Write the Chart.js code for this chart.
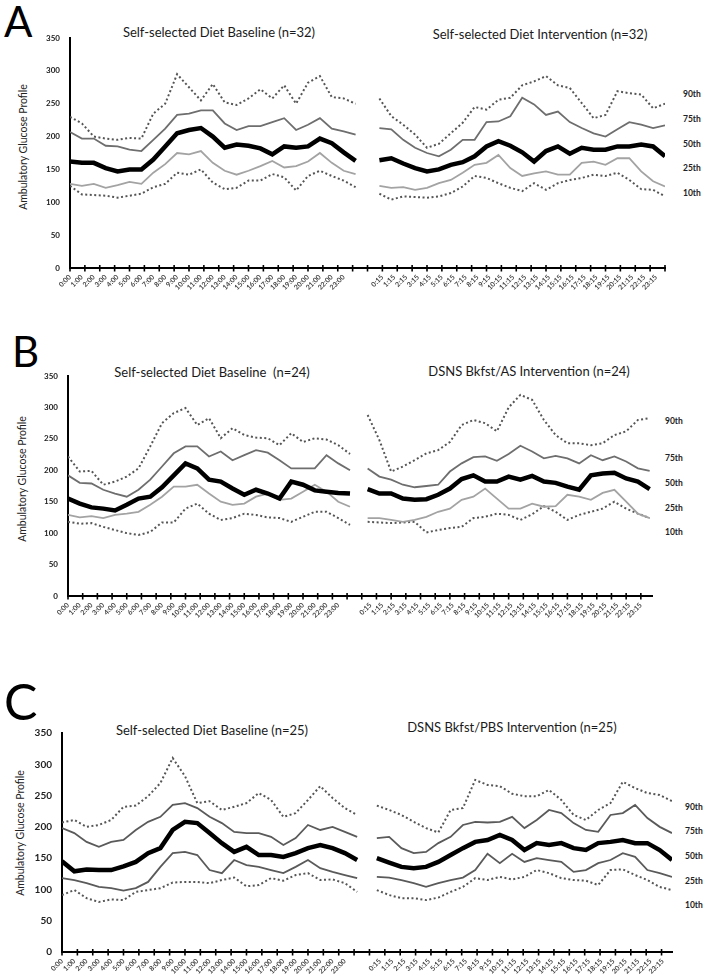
<!DOCTYPE html>
<html>
<head>
<meta charset="utf-8">
<script src="https://cdn.jsdelivr.net/npm/chart.js@4.4.1/dist/chart.umd.min.js"></script>
<style>
  body { margin: 0; width: 708px; height: 977px; position: relative; background: #fff; overflow: hidden;
         font-family: Lato, "Open Sans", sans-serif; }
  .panel { position: absolute; left: 0; width: 708px; }
  .lbl { position: absolute; white-space: nowrap; color: #1a1a1a; }
  .letter { font-size: 42px; line-height: 1; color: #000; }
  .ttl { font-size: 13px; transform: translate(-50%, -50%); color: #1a1a1a; }
  .pct { font-size: 8.5px; font-weight: bold; transform: translateY(-50%); color: #222; }
  .ytl { font-size: 10.5px; transform: translate(-50%, -50%) rotate(-90deg); color: #222; }
</style>
</head>
<body>

<div class="lbl letter" style="left:4px;top:0px">A</div>
<div class="lbl letter" style="left:12px;top:330px">B</div>
<div class="lbl letter" style="left:4px;top:676px;font-size:50px">C</div>

<div class="lbl ttl" style="left:219px;top:32px">Self-selected Diet Baseline (n=32)</div>
<div class="lbl ttl" style="left:540px;top:34px">Self-selected Diet Intervention (n=32)</div>
<div class="lbl ttl" style="left:212px;top:372px">Self-selected Diet Baseline&nbsp; (n=24)</div>
<div class="lbl ttl" style="left:529px;top:371px">DSNS Bkfst/AS Intervention (n=24)</div>
<div class="lbl ttl" style="left:212px;top:730px">Self-selected Diet Baseline (n=25)</div>
<div class="lbl ttl" style="left:512px;top:727px">DSNS Bkfst/PBS Intervention (n=25)</div>

<div class="lbl ytl" style="left:23px;top:147px">Ambulatory Glucose Profile</div>
<div class="lbl ytl" style="left:22px;top:479px">Ambulatory Glucose Profile</div>
<div class="lbl ytl" style="left:20px;top:833px">Ambulatory Glucose Profile</div>

<div id="pctA"></div><div id="pctB"></div><div id="pctC"></div>

<div class="panel" style="top:0px;height:300px"><canvas id="chartA"></canvas></div>
<div class="panel" style="top:330px;height:300px"><canvas id="chartB"></canvas></div>
<div class="panel" style="top:690px;height:287px"><canvas id="chartC"></canvas></div>

<script>
// percentile names, top to bottom
const percentiles = ['90th', '75th', '50th', '25th', '10th'];
const yTicks = [0, 50, 100, 150, 200, 250, 300, 350];
const baseTickLabels = ['0:00','1:00','2:00','3:00','4:00','5:00','6:00','7:00','8:00','9:00','10:00','11:00',
  '12:00','13:00','14:00','15:00','16:00','17:00','18:00','19:00','20:00','21:00','22:00','23:00'];
const intTickLabels = ['0:15','1:15','2:15','3:15','4:15','5:15','6:15','7:15','8:15','9:15','10:15','11:15',
  '12:15','13:15','14:15','15:15','16:15','17:15','18:15','19:15','20:15','21:15','22:15','23:15'];

// hourly readings, 0:00 .. 24:00 (mg/dL)
// A: self-selected diet baseline / intervention
const aBase90 = [230,220,200,197,195,198,197,235,250,295,275,255,280,252,248,258,272,258,278,250,282,292,260,258,250];
const aBase75 = [207,197,197,186,185,180,178,195,212,233,235,240,240,220,210,216,216,222,228,210,218,228,212,208,203];
const aBase50 = [162,160,160,152,147,150,150,165,185,205,210,213,200,183,188,186,182,173,185,183,185,197,190,176,163];
const aBase25 = [128,125,128,122,126,131,128,145,158,175,173,178,160,148,142,148,155,163,153,155,162,175,160,148,143];
const aBase10 = [125,112,111,110,107,110,113,123,128,145,142,150,130,120,122,133,133,143,138,118,140,148,140,133,123];
const aInt90 = [258,231,218,203,183,189,205,221,245,241,256,259,278,284,292,278,274,251,228,233,269,266,264,243,250];
const aInt75 = [213,211,195,183,175,170,180,195,195,222,223,231,259,249,233,238,222,213,205,200,211,222,218,213,217];
const aInt50 = [164,167,159,152,147,150,157,161,170,185,193,186,176,162,178,185,174,183,180,180,185,185,188,185,170];
const aInt25 = [125,122,123,119,122,129,134,145,157,160,172,152,140,144,147,142,142,160,162,157,167,167,147,132,124];
const aInt10 = [113,104,109,108,107,109,114,124,140,137,129,122,117,129,119,129,134,137,142,140,145,134,120,119,109];

// B: baseline / DSNS Bkfst AS intervention
const bBase90 = [222,198,199,177,182,190,203,238,275,291,299,272,283,251,267,256,252,251,240,259,245,251,249,240,226];
const bBase75 = [192,180,179,169,163,158,169,185,206,227,238,238,222,230,216,224,232,228,216,203,203,203,224,211,200];
const bBase50 = [155,147,141,139,136,145,155,158,173,192,211,203,185,182,171,161,169,163,155,182,177,168,166,164,163];
const bBase25 = [129,125,127,124,129,131,134,145,158,174,174,177,163,150,145,147,158,163,153,155,166,177,166,150,142];
const bBase10 = [118,115,116,110,105,100,97,102,117,117,139,147,131,121,124,131,129,125,124,118,126,134,134,124,113];
const bInt90 = [288,248,198,206,216,227,232,245,272,280,275,262,300,320,312,280,256,243,243,240,243,256,262,280,283];
const bInt75 = [203,190,185,177,173,175,177,198,211,221,222,215,226,239,230,219,223,219,211,224,216,222,214,203,199];
const bInt50 = [170,163,163,155,153,154,161,171,186,192,182,182,190,185,191,182,180,174,169,192,195,196,187,182,170];
const bInt25 = [124,124,121,118,121,126,134,139,153,158,171,155,139,139,147,142,143,161,158,153,164,169,150,131,124];
const bInt10 = [118,117,116,117,118,101,105,108,110,124,126,131,129,121,130,143,134,121,129,134,139,150,139,131,124];

// C: baseline / DSNS Bkfst PBS intervention
const cBase90 = [207,211,200,203,211,232,234,249,270,310,281,238,241,227,232,238,254,243,216,222,243,265,246,230,219];
const cBase75 = [198,190,176,168,176,179,195,208,216,235,238,230,216,206,192,190,190,184,171,182,203,195,200,192,184];
const cBase50 = [145,129,132,131,131,137,144,158,166,195,208,206,190,174,160,168,155,155,152,158,166,171,166,158,147];
const cBase25 = [118,115,110,104,102,98,102,112,136,158,160,155,131,126,147,139,136,131,126,136,147,134,128,123,118];
const cBase10 = [91,99,86,80,84,83,96,99,102,111,112,112,110,115,119,105,107,118,114,123,126,115,116,110,96];
const cInt90 = [234,227,219,208,198,191,227,230,275,267,265,253,249,249,259,243,219,211,227,238,272,262,254,251,241];
const cInt75 = [182,184,166,158,160,174,184,203,208,207,208,216,198,211,227,222,206,195,192,219,222,235,214,200,190];
const cInt50 = [150,143,136,134,136,144,155,166,176,179,187,179,163,174,171,174,166,163,174,176,179,174,174,163,147];
const cInt25 = [120,119,115,110,104,110,115,119,131,157,142,157,144,150,147,144,128,131,142,147,158,152,131,126,120];
const cInt10 = [99,91,86,86,83,87,96,104,118,115,120,116,120,131,126,118,115,114,107,131,132,123,115,104,99];

// draws the little tick marks crossing the x axis (every 5 quarter-hours, like the original)
const axisMarks = {
  id: 'axisMarks',
  afterDraw(chart, args, opts) {
    const xs = chart.scales.x;
    const y0 = chart.scales.y.getPixelForValue(0);
    const ctx = chart.ctx;
    ctx.save();
    ctx.strokeStyle = '#000';
    ctx.lineWidth = 1.6;
    for (let k = 0; k * opts.step <= xs.max + 0.001; k++) {
      const px = xs.getPixelForValue(k * opts.step);
      ctx.beginPath();
      ctx.moveTo(px, y0 - 3);
      ctx.lineTo(px, y0 + 3.5);
      ctx.stroke();
    }
    ctx.restore();
  }
};

function makePanel(id, p) {
  const styles = [
    { color: '#555', width: 2, dash: [2, 2.5] },
    { color: p.c75, width: 1.8, dash: [] },
    { color: '#000', width: 4.5, dash: [] },
    { color: p.c25, width: 1.8, dash: [] },
    { color: '#555', width: 2, dash: [2, 2.5] }
  ];
  const datasets = percentiles.map((name, i) => {
    const pts = p.base[i].map((v, h) => ({ x: h, y: v }))
      .concat([{ x: 24.5, y: null }])
      .concat(p.inter[i].map((v, h) => ({ x: p.offset + h * p.span / 24, y: v })));
    return {
      label: name,
      data: pts,
      borderColor: styles[i].color,
      borderWidth: styles[i].width,
      borderDash: styles[i].dash,
      pointRadius: 0,
      tension: 0,
      spanGaps: false,
      fill: false,
      order: i === 2 ? 0 : 1
    };
  });

  const tickVals = baseTickLabels.map((t, h) => h)
    .concat(intTickLabels.map((t, h) => p.offset + 0.25 + h));
  const tickText = baseTickLabels.concat(intTickLabels);

  new Chart(document.getElementById(id), {
    type: 'line',
    data: { datasets: datasets },
    options: {
      responsive: true,
      maintainAspectRatio: false,
      animation: false,
      layout: { padding: { top: p.top, right: p.right, left: 0, bottom: 0 } },
      plugins: { legend: { display: false }, tooltip: { enabled: false }, axisMarks: { step: 1.25 } },
      scales: {
        x: {
          type: 'linear',
          min: 0,
          max: p.max,
          afterBuildTicks: s => { s.ticks = tickVals.map(v => ({ value: v })); },
          afterFit: s => { s.height = p.xh; },
          grid: { display: false, drawTicks: false },
          border: { display: true, color: '#000', width: 2 },
          ticks: {
            autoSkip: false, minRotation: 45, maxRotation: 45, padding: 5,
            color: '#444',
            font: { family: 'Lato', size: 7, weight: 'bold' },
            callback: (v, i) => tickText[i]
          }
        },
        y: {
          min: 0,
          max: 350,
          afterBuildTicks: s => { s.ticks = yTicks.map(v => ({ value: v })); },
          afterFit: s => { s.width = p.left; },
          grid: { display: false, drawTicks: false },
          border: { display: true, color: '#000', width: 2 },
          ticks: {
            padding: p.left - p.labelRight,
            color: '#222',
            font: { family: 'Lato', size: p.yFont, weight: 'bold' }
          }
        }
      }
    },
    plugins: [axisMarks]
  });

  const holder = document.getElementById(p.pctId);
  percentiles.forEach((name, i) => {
    const d = document.createElement('div');
    d.className = 'lbl pct';
    d.style.left = p.pctX + 'px';
    d.style.top = p.pctY[i] + 'px';
    d.textContent = name;
    holder.appendChild(d);
  });
}

makePanel('chartA', {
  base: [aBase90, aBase75, aBase50, aBase25, aBase10],
  inter: [aInt90, aInt75, aInt50, aInt25, aInt10],
  offset: 26, span: 24, max: 50,
  top: 38, right: 43, xh: 32, left: 70, labelRight: 60, yFont: 8,
  c75: '#6e6e6e', c25: '#a3a3a3',
  pctId: 'pctA', pctX: 683, pctY: [94, 119, 144, 168, 193]
});

makePanel('chartB', {
  base: [bBase90, bBase75, bBase50, bBase25, bBase10],
  inter: [bInt90, bInt75, bInt50, bInt25, bInt10],
  offset: 25.5, span: 24, max: 49.7,
  top: 46, right: 56, xh: 34, left: 68, labelRight: 58, yFont: 8,
  c75: '#6e6e6e', c25: '#a3a3a3',
  pctId: 'pctB', pctX: 665, pctY: [421, 458, 483, 508, 532]
});

makePanel('chartC', {
  base: [cBase90, cBase75, cBase50, cBase25, cBase10],
  inter: [cInt90, cInt75, cInt50, cInt25, cInt10],
  offset: 25.6, span: 24, max: 49.6,
  top: 43, right: 36, xh: 25, left: 62, labelRight: 52, yFont: 10,
  c75: '#5a5a5a', c25: '#5a5a5a',
  pctId: 'pctC', pctX: 685, pctY: [807, 831, 856, 881, 905]
});
</script>
</body>
</html>
